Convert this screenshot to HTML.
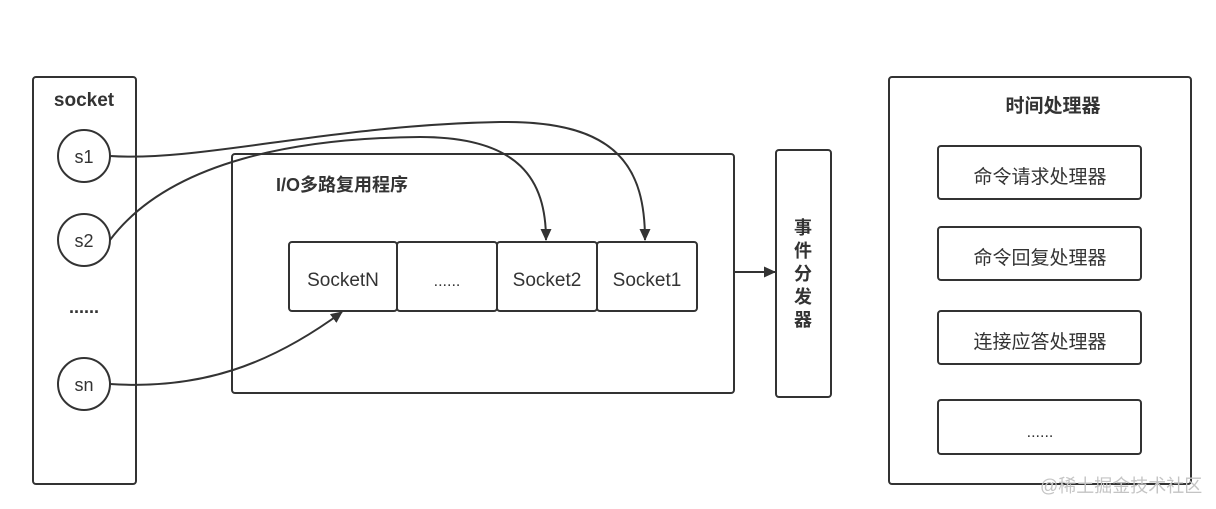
<!DOCTYPE html>
<html><head><meta charset="utf-8"><style>
html,body{margin:0;padding:0;background:#fff;}
svg{display:block;}
text{font-family:"Liberation Sans","Noto Sans CJK SC",sans-serif;fill:#333;}
</style></head><body>
<svg width="1216" height="509" viewBox="0 0 1216 509" xmlns="http://www.w3.org/2000/svg">
<defs><marker id="a" markerWidth="12" markerHeight="12" refX="11" refY="5.5" orient="auto" markerUnits="userSpaceOnUse"><path d="M0,0 L12,5.5 L0,11 z" fill="#333"/></marker></defs>
<g fill="none" stroke="#333" stroke-width="2">
<rect x="33" y="77" width="103" height="407" rx="3"/>
<circle cx="84" cy="156" r="26"/>
<circle cx="84" cy="240" r="26"/>
<circle cx="84" cy="384" r="26"/>
<rect x="232" y="154" width="502" height="239" rx="3"/>
<rect x="289" y="242" width="108" height="69" rx="3"/>
<rect x="397" y="242" width="100" height="69" rx="3"/>
<rect x="497" y="242" width="100" height="69" rx="3"/>
<rect x="597" y="242" width="100" height="69" rx="3"/>
<rect x="776" y="150" width="55" height="247" rx="3"/>
<rect x="889" y="77" width="302" height="407" rx="3"/>
<rect x="938" y="146" width="203" height="53" rx="3"/>
<rect x="938" y="227" width="203" height="53" rx="3"/>
<rect x="938" y="311" width="203" height="53" rx="3"/>
<rect x="938" y="400" width="203" height="54" rx="3"/>
<path d="M734,272 L775,272" marker-end="url(#a)"/>
<path d="M110,156 C200,162 330,125 500,122 C620,120 645,170 645,240" marker-end="url(#a)"/>
<path d="M110,240 C170,160 300,138 420,137 C520,137 546,180 546,240" marker-end="url(#a)"/>
<path d="M110,384 C200,390 270,365 342,312" marker-end="url(#a)"/>
</g>
<text x="84" y="106" font-size="19" font-weight="bold" text-anchor="middle">socket</text>
<text x="84" y="163" font-size="18" text-anchor="middle">s1</text>
<text x="84" y="247" font-size="18" text-anchor="middle">s2</text>
<text x="84" y="391" font-size="18" text-anchor="middle">sn</text>
<text x="84" y="313" font-size="18" font-weight="bold" text-anchor="middle">......</text>
<text x="276" y="191" font-size="18" font-weight="bold">I/O多路复用程序</text>
<text x="343" y="286" font-size="19" text-anchor="middle">SocketN</text>
<text x="447" y="286" font-size="16" text-anchor="middle">......</text>
<text x="547" y="286" font-size="19" text-anchor="middle">Socket2</text>
<text x="647" y="286" font-size="19" text-anchor="middle">Socket1</text>
<g font-size="18" font-weight="bold" text-anchor="middle">
<text x="803" y="234">事</text><text x="803" y="257">件</text><text x="803" y="280">分</text><text x="803" y="303">发</text><text x="803" y="326">器</text>
</g>
<text x="1053" y="112" font-size="19" font-weight="bold" text-anchor="middle">时间处理器</text>
<text x="1040" y="183" font-size="19" text-anchor="middle">命令请求处理器</text>
<text x="1040" y="264" font-size="19" text-anchor="middle">命令回复处理器</text>
<text x="1040" y="348" font-size="19" text-anchor="middle">连接应答处理器</text>
<text x="1040" y="437" font-size="16" text-anchor="middle">......</text>
<text x="1040" y="492" font-size="18" style="fill:#c4c4c4">@稀土掘金技术社区</text>
</svg>
</body></html>
